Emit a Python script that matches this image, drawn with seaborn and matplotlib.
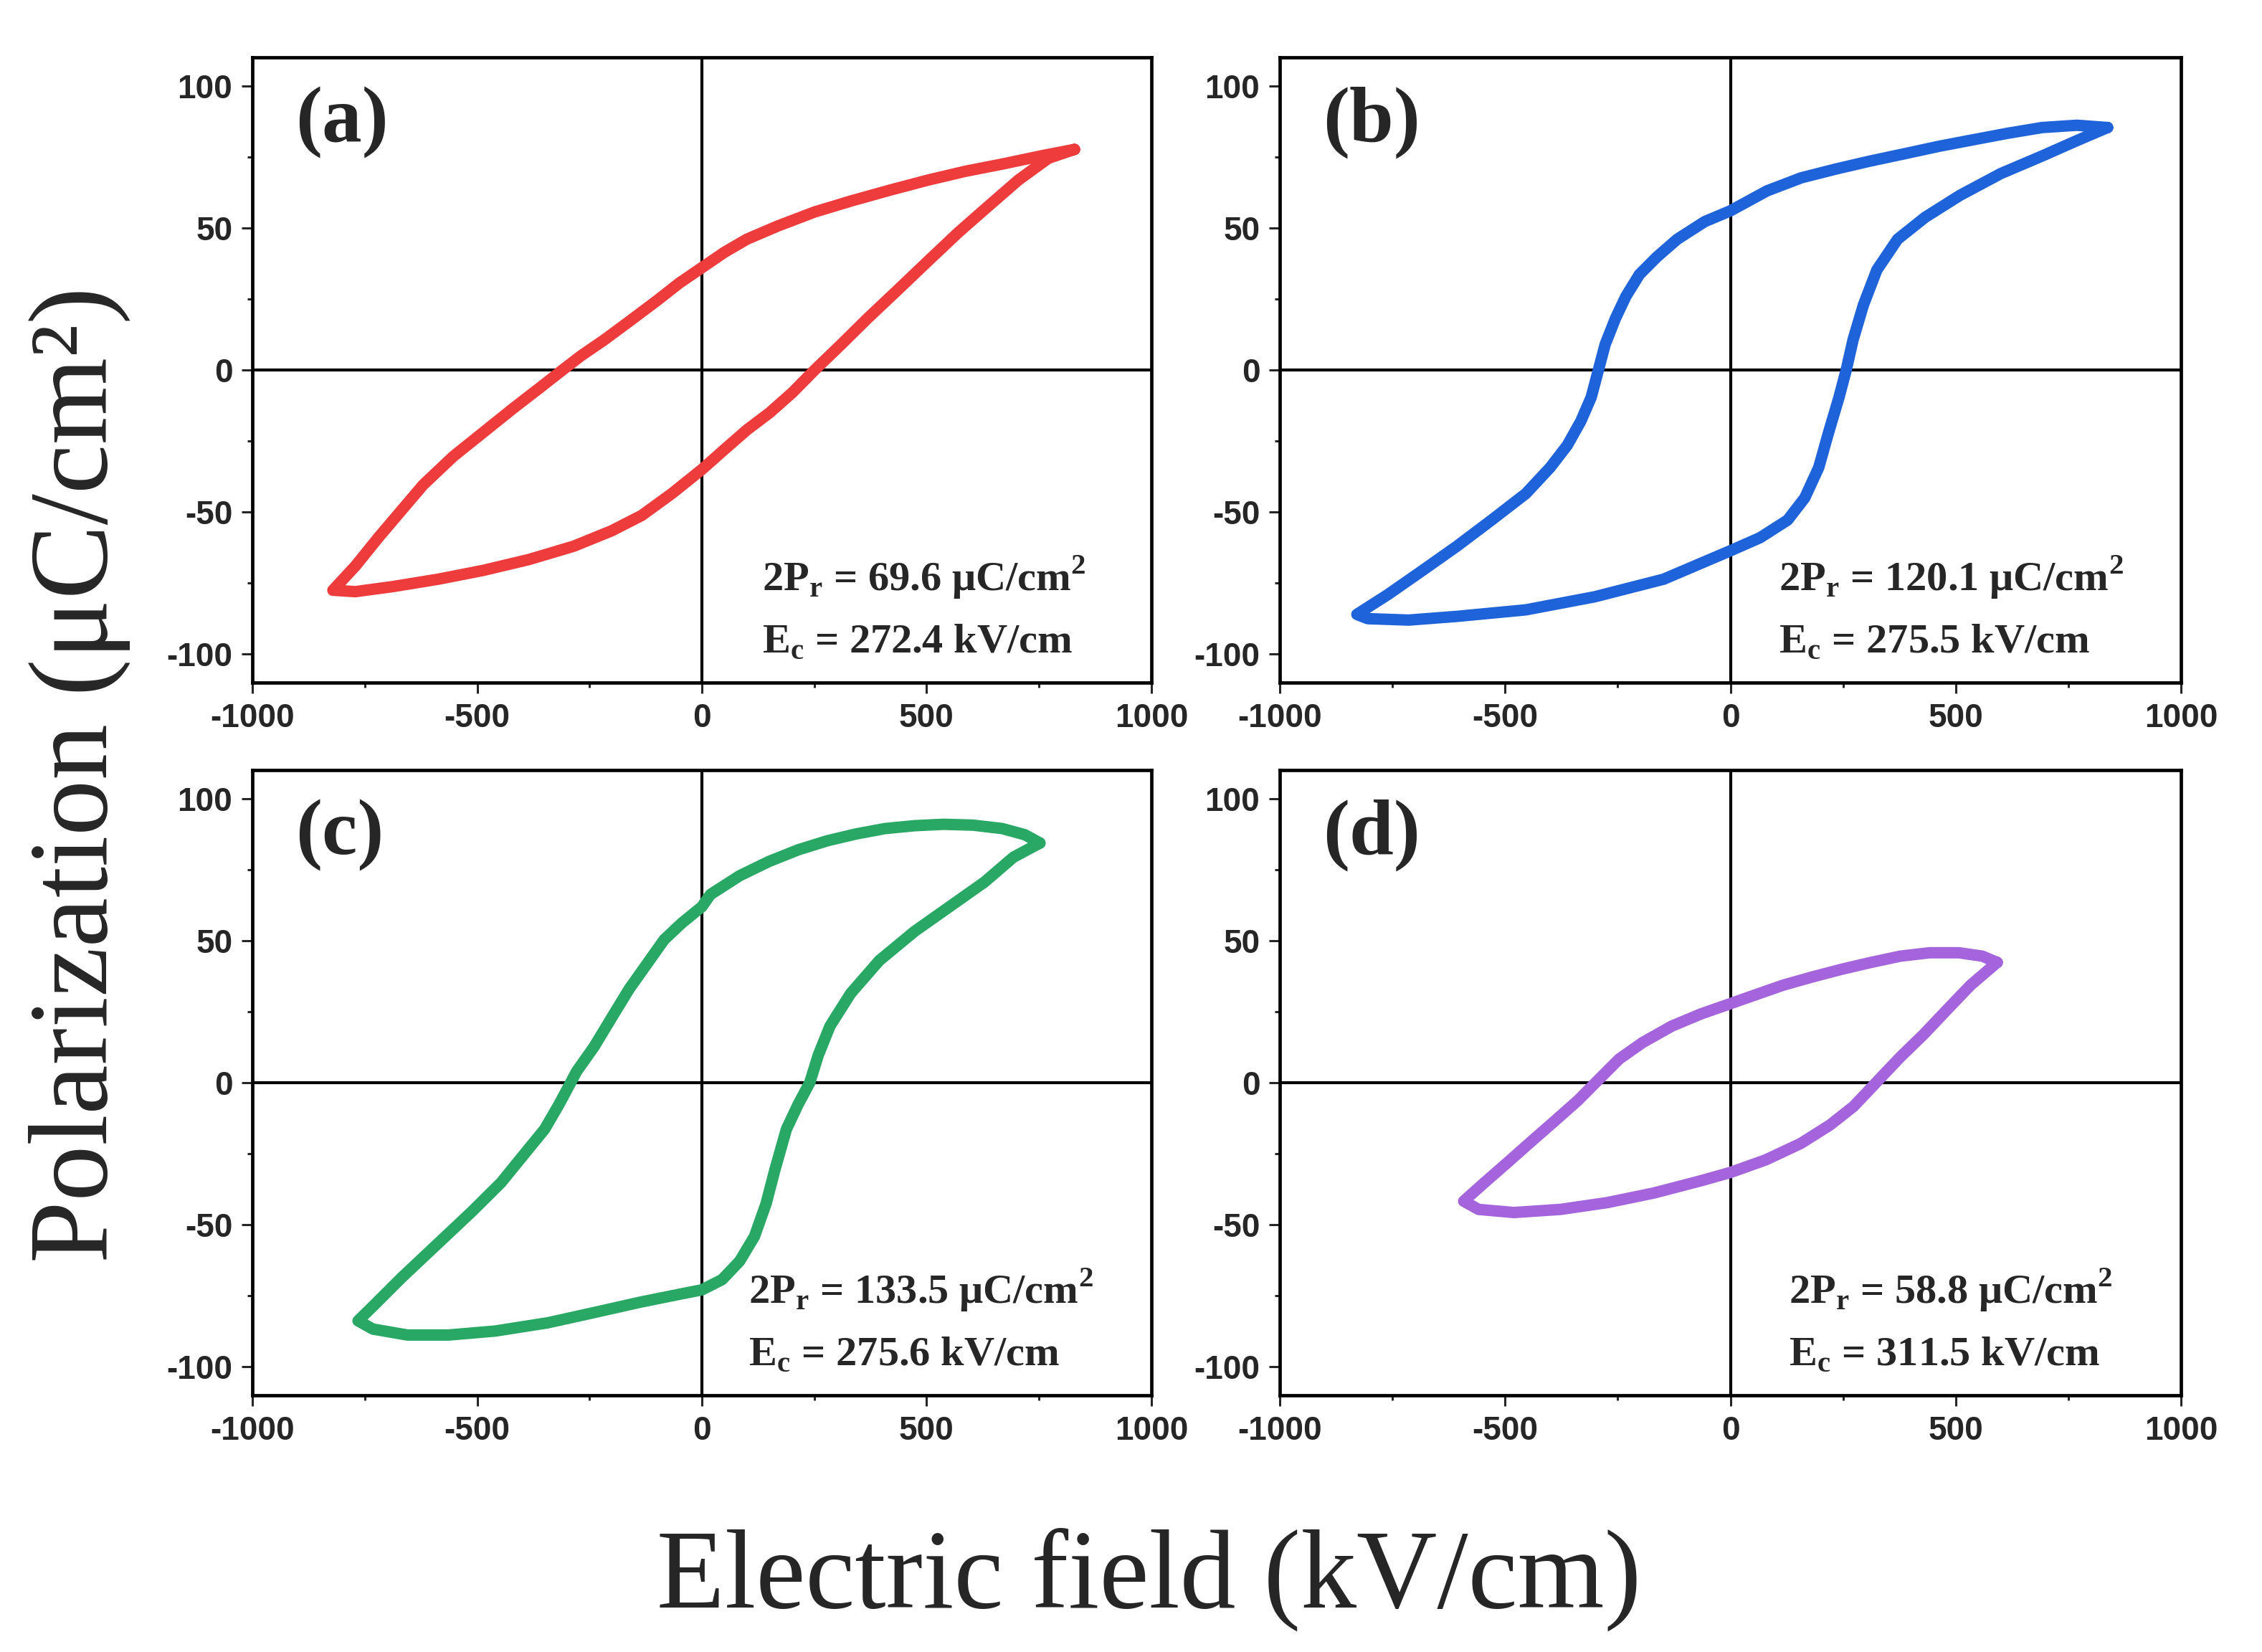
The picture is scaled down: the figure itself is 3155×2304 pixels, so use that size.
import numpy as np
import pandas as pd
import matplotlib
matplotlib.use("Agg")
import matplotlib.pyplot as plt
import seaborn as sns
from matplotlib.ticker import MultipleLocator

sns.set_style("ticks")
plt.rcParams["font.family"] = ["Liberation Sans", "DejaVu Sans"]
plt.rcParams["axes.unicode_minus"] = False
plt.rcParams["mathtext.fontset"] = "custom"
plt.rcParams["mathtext.bf"] = "Liberation Serif:bold"
plt.rcParams["mathtext.rm"] = "Liberation Serif"

# P-E loops (E in kV/cm, P in uC/cm2)
# each loop: top tip -> upper branch -> bottom tip -> lower branch -> top tip
a_E = [829, 754, 670, 586, 503, 419, 335, 251, 168, 100, 50, 0, -50, -100, -159, -218, -268,
       -310, -360, -419, -486, -553, -620, -670, -720, -771, -821,
       -771, -687, -586, -486, -385, -285, -201, -134, -67, 0, 50, 100, 151, 201, 251, 310,
       369, 436, 503, 570, 637, 704, 771, 829]
a_P = [77.6, 75.3, 72.5, 69.9, 66.8, 63.3, 59.6, 55.6, 50.6, 46, 41.4, 36, 30.6, 24.4, 17.4, 10.5, 5.1,
       0, -6.2, -13.4, -21.9, -30.4, -40.4, -49.7, -59, -69, -77.5,
       -78, -76.2, -73.6, -70.5, -66.7, -62, -56.6, -51.2, -43.5, -35, -28, -21.1, -15, -8, 0, 9,
       18.2, 28.2, 38.3, 48.3, 57.6, 66.8, 74.5, 77.6]

b_E = [837, 769, 692, 616, 539, 463, 387, 310, 234, 157, 81, 0, -57, -118, -163, -202, -232, -255,
       -278, -293, -309, -332, -362, -400, -454, -530, -607, -683, -760, -829,
       -805, -714, -607, -454, -301, -148, 0, 66, 127, 165, 196, 218, 241, 257, 272, 295, 325,
       371, 432, 509, 600, 692, 769, 837]
b_P = [85.3, 86.1, 85.3, 83.3, 81, 78.7, 76.1, 73.5, 70.7, 67.6, 63, 56, 52.2, 46, 39.8, 33.6, 25.9, 18.2,
       9, 0, -9.6, -18, -26.5, -34.3, -43.5, -52.8, -62, -70.5, -79, -86,
       -87.5, -88, -86.7, -84.4, -79.8, -73.6, -63.6, -59, -52.8, -45, -34.3, -21.9, -9.6, 0, 10.5, 22.8, 35.2,
       46, 53.7, 61.4, 69.1, 75.3, 80.7, 85.3]

c_E = [752, 719, 668, 603, 538, 473, 408, 343, 279, 214, 149, 84, 19, 0, -45, -84, -123, -162, -201,
       -240, -279, -292, -318, -350, -395, -447, -512, -590, -668, -732, -765,
       -732, -655, -564, -460, -343, -240, -136, -45, 0, 45, 84, 117, 143, 162, 188, 214, 240,
       259, 285, 331, 395, 473, 551, 629, 693, 752]
c_P = [84.3, 87.2, 89.4, 90.6, 90.9, 90.4, 89.4, 87.5, 85.1, 81.9, 77.8, 72.8, 66.2, 61.9, 56.1, 50.3, 41.6, 32.9, 22.8,
       12.6, 3.9, 0, -7.7, -16.4, -25.1, -35.2, -45.4, -57, -68.6, -78.7, -83.8,
       -86.7, -88.8, -88.8, -87.4, -84.5, -80.9, -77.2, -74.3, -72.9, -69.3, -62.8, -54.1, -42.5, -30.9, -16.4, -7.7, 0,
       9.7, 19.9, 31.4, 43, 53.2, 61.9, 70.6, 79.3, 84.3]

d_E = [592, 559, 507, 442, 377, 312, 247, 182, 117, 52, 0, -65, -130, -195, -247, -293, -338, -390,
       -442, -494, -546, -592,
       -559, -481, -377, -273, -169, -65, 0, 78, 156, 221, 273, 312, 338, 377, 429, 481, 533, 592]
d_P = [42.3, 44.5, 45.7, 45.7, 44.5, 42.3, 39.9, 37.2, 34.3, 30.7, 27.8, 24.2, 19.9, 14.1, 8.3, 1, -6.2, -13.5,
       -20.7, -28, -35.2, -41.7,
       -44.6, -45.7, -44.6, -42.2, -38.8, -34.5, -31.6, -27.2, -21.4, -14.9, -8.4, -1.9, 2.5, 9, 17, 25.7, 34.3, 42.3]

panel_labels = ["(a)", "(b)", "(c)", "(d)"]
pr_values = ["69.6", "120.1", "133.5", "58.8"]
ec_values = ["272.4", "275.5", "275.6", "311.5"]
colors = ["#EE3B3B", "#1E63D9", "#28A864", "#A464DC"]
loops = [(a_E, a_P), (b_E, b_P), (c_E, c_P), (d_E, d_P)]

fig = plt.figure(figsize=(31.55, 23.04), dpi=100)
axes_pos = [
    [0.1116, 0.5868, 0.3974, 0.3785],
    [0.5658, 0.5868, 0.3984, 0.3785],
    [0.1116, 0.1554, 0.3974, 0.3785],
    [0.5658, 0.1554, 0.3984, 0.3785],
]
text_x = [0.567, 0.554, 0.552, 0.565]

for i in range(4):
    ax = fig.add_axes(axes_pos[i])
    E, P = loops[i]
    sns.lineplot(x=E, y=P, sort=False, estimator=None, ax=ax, color=colors[i],
                 lw=11.5, solid_joinstyle="round", solid_capstyle="round", zorder=3)
    ax.axhline(0, color="black", lw=3, zorder=2)
    ax.axvline(0, color="black", lw=3, zorder=2)
    ax.set_xlim(-1000, 1000)
    ax.set_ylim(-110, 110)
    ax.xaxis.set_major_locator(MultipleLocator(500))
    ax.xaxis.set_minor_locator(MultipleLocator(250))
    ax.yaxis.set_major_locator(MultipleLocator(50))
    ax.yaxis.set_minor_locator(MultipleLocator(25))
    ax.tick_params(which="major", direction="out", length=11, width=2.2, pad=9,
                   labelsize=33)
    ax.tick_params(which="minor", direction="out", length=5, width=2.2)
    for lab in ax.get_xticklabels() + ax.get_yticklabels():
        lab.set_fontweight("bold")
    for sp in ax.spines.values():
        sp.set_linewidth(3.4)
        sp.set_color("black")
    ax.set_xlabel("")
    ax.set_ylabel("")
    ax.text(0.048, 0.896, panel_labels[i], transform=ax.transAxes, fontsize=80,
            fontweight="bold", family="Liberation Serif", va="center", ha="left")
    ax.text(text_x[i], 0.169,
            "2$\\mathbf{P}_\\mathbf{r}$ = " + pr_values[i] + " μC/c$\\mathbf{m}^\\mathbf{2}$",
            transform=ax.transAxes, fontsize=42, fontweight="bold",
            family="Liberation Serif", va="center", ha="left")
    ax.text(text_x[i], 0.065,
            "$\\mathbf{E}_\\mathbf{c}$ = " + ec_values[i] + " kV/cm",
            transform=ax.transAxes, fontsize=42, fontweight="bold",
            family="Liberation Serif", va="center", ha="left")

fig.text(0.035, 0.531, "Polarization (μC/cm²)", rotation=90, fontsize=112,
         family="Liberation Serif", va="center", ha="center")
fig.text(0.508, 0.044, "Electric field (kV/cm)", fontsize=112,
         family="Liberation Serif", va="center", ha="center")

fig.savefig("out.png", dpi=100)
